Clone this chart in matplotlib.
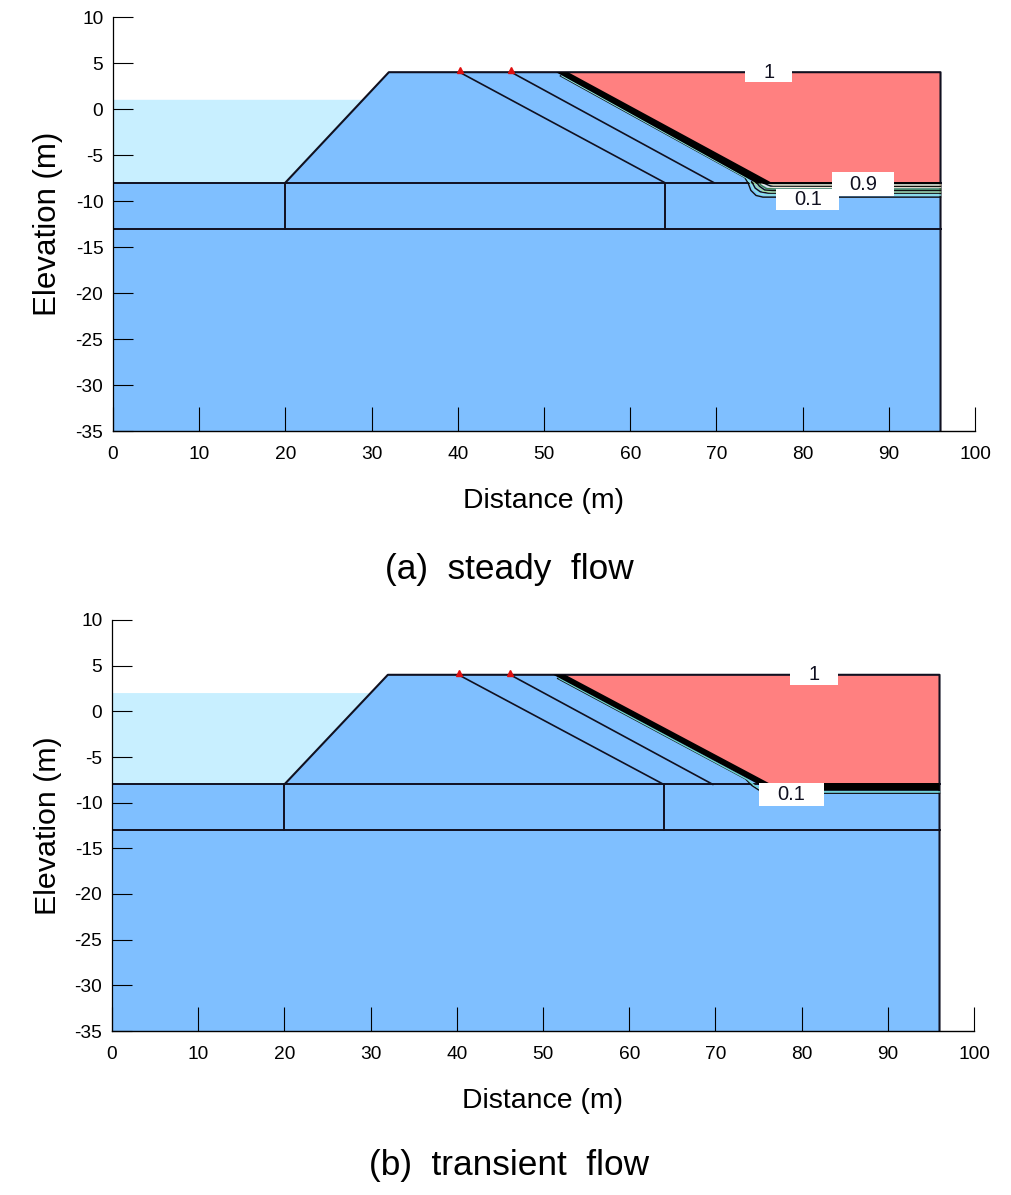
import matplotlib
matplotlib.use('Agg')
import matplotlib.pyplot as plt
from matplotlib.patches import Rectangle

plt.rcParams['font.family'] = ['Liberation Sans', 'DejaVu Sans']
plt.rcParams['axes.unicode_minus'] = False

# geometry (metres)
ground_x = [0, 0, 20, 32, 96, 96]
ground_y = [-35, -8, -8, 4, 4, -35]
drain1_x = [40.2, 64]
drain2_x = [46.2, 69.7]
drain_y = [4, -8]

# steady flow
water_a_x = [0, 0, 29, 20]
water_a_y = [-8, 1, 1, -8]
pink_a_x = [52.6, 96, 96, 75.6]
pink_a_y = [4, 4, -8, -8]
phreatic_a_x = [51.4, 52.8, 76.3, 96, 96, 75.6, 74.5]
phreatic_a_y = [4, 4, -7.95, -7.95, -8.15, -8.15, -8]
contours_a = [
    ([51.9, 73.3, 73.7, 74, 74.6, 75.4, 96], [3.6, -7.45, -8.1, -8.85, -9.4, -9.58, -9.58], '#101010'),
    ([52.1, 73.5, 74, 74.3, 74.9, 75.7, 96], [3.6, -7.5, -8.1, -8.7, -9.2, -9.35, -9.35], '#8fe8e0'),
    ([74.1, 74.5, 75.1, 76, 96], [-7.9, -8.6, -9, -9.15, -9.15], '#101010'),
    ([74.3, 74.8, 75.4, 76.3, 96], [-7.9, -8.5, -8.9, -9.02, -9.02], '#a8e0a0'),
    ([74.5, 75, 75.6, 76.5, 96], [-7.8, -8.4, -8.8, -8.86, -8.86], '#101010'),
    ([74.7, 75.2, 75.8, 76.8, 96], [-7.8, -8.3, -8.65, -8.7, -8.7], '#3f7f45'),
    ([74.9, 75.4, 76, 77, 96], [-7.8, -8.2, -8.48, -8.52, -8.52], '#f0e8d8'),
    ([75.1, 75.6, 76.3, 96], [-7.8, -8.1, -8.38, -8.42], '#101010'),
    ([75.3, 75.9, 76.6, 96], [-7.8, -8.05, -8.26, -8.26], '#d8c8a0'),
]
labels_a = ['1', '0.1', '0.9']
labels_a_x = [76.1, 80.6, 87]
labels_a_y = [4, -9.8, -8.2]
boxes_a_w = [5.45, 7.3, 7.2]
boxes_a_h = [2.2, 2.3, 2.6]

# transient flow
water_b_x = [0, 0, 30, 20]
water_b_y = [-8, 2, 2, -8]
pink_b_x = [52.6, 96, 96, 75.6]
pink_b_y = [4, 4, -7.9, -7.9]
phreatic_b_x = [51.2, 52.6, 76.2, 96, 96, 75.6, 75.0]
phreatic_b_y = [4, 4, -7.85, -7.85, -8.7, -8.7, -8]
contours_b = [
    ([51.7, 73.5, 74.2, 75, 76.2, 96], [3.6, -7.4, -8.1, -8.6, -8.97, -8.97], '#101010'),
    ([51.9, 73.7, 74.5, 75.3, 76.4, 96], [3.6, -7.45, -8.1, -8.5, -8.82, -8.82], '#70d8d0'),
]
labels_b = ['1', '0.1']
labels_b_x = [81.4, 78.8]
labels_b_y = [4, -9.1]
boxes_b_w = [5.6, 7.5]
boxes_b_h = [2.3, 2.5]

xticks = list(range(0, 101, 10))
yticks = list(range(-35, 11, 5))

line_col = '#101020'


def draw_panel(rect, water_x, water_y, pink_x, pink_y, ph_x, ph_y, contours,
               labs, lab_x, lab_y, box_w, box_h, ylab_size):
    ax = fig.add_axes(rect)
    ax.set_xlim(0, 100)
    ax.set_ylim(-35, 10)
    ax.spines['top'].set_visible(False)
    ax.spines['right'].set_visible(False)
    ax.spines['left'].set_linewidth(0.9)
    ax.spines['bottom'].set_linewidth(1.0)
    ax.spines['left'].set_zorder(6)
    ax.spines['bottom'].set_zorder(6)
    ax.set_xticks(xticks)
    ax.set_yticks(yticks)
    ax.tick_params(axis='x', direction='in', length=17, width=0.8, labelsize=13.8, pad=10.5)
    ax.tick_params(axis='y', direction='in', length=14.5, width=0.8, labelsize=13.8, pad=7)
    ax.xaxis.set_zorder(10)
    ax.yaxis.set_zorder(10)

    ax.fill(water_x, water_y, color='#c8efff', lw=0, zorder=2)
    ax.fill(ground_x, ground_y, color='#7fbfff', lw=0, zorder=3)
    ax.fill(pink_x, pink_y, color='#ff8080', lw=0, zorder=4)

    # soil boundaries
    ax.plot(ground_x[2:], ground_y[2:], color=line_col, lw=1.5, zorder=6)
    ax.plot([0, 96], [-8, -8], color=line_col, lw=1.4, zorder=6)
    ax.plot([0, 96], [-13, -13], color=line_col, lw=1.4, zorder=6)
    ax.plot([20, 20], [-8, -13], color=line_col, lw=1.4, zorder=6)
    ax.plot([64, 64], [-8, -13], color=line_col, lw=1.4, zorder=6)
    ax.plot(drain1_x, drain_y, color=line_col, lw=1.2, zorder=6)
    ax.plot(drain2_x, drain_y, color=line_col, lw=1.2, zorder=6)
    ax.plot([drain1_x[0], drain2_x[0]], [4.25, 4.25], ls='none', marker='^', ms=5,
            color='#e01010', zorder=7, clip_on=False)

    for cx, cy, col in contours:
        ax.plot(cx, cy, color=col, lw=1.0, zorder=7)
    ax.fill(ph_x, ph_y, color='black', lw=0, zorder=8)

    for i, (t, x, y) in enumerate(zip(labs, lab_x, lab_y)):
        ax.add_patch(Rectangle((x - box_w[i] / 2, y - box_h[i] / 2), box_w[i], box_h[i],
                               fc='white', ec='none', zorder=9 + i * 0.1))
        ax.text(x, y, t, fontsize=14.5, ha='center', va='center', zorder=9.05 + i * 0.1, color='#101020')

    ax.set_xlabel('Distance (m)', fontsize=20.4, labelpad=18.5)
    ax.set_ylabel('Elevation (m)', fontsize=ylab_size, labelpad=9)
    return ax


W, H = 1012, 1195
fig = plt.figure(figsize=(W / 100, H / 100), dpi=100)

rect_a = [113 / W, 1 - 431 / H, 862 / W, 414 / H]
rect_b = [112 / W, 1 - 1031 / H, 862 / W, 411 / H]
draw_panel(rect_a, water_a_x, water_a_y, pink_a_x, pink_a_y, phreatic_a_x, phreatic_a_y,
           contours_a, labels_a, labels_a_x, labels_a_y, boxes_a_w, boxes_a_h, 22.5)
draw_panel(rect_b, water_b_x, water_b_y, pink_b_x, pink_b_y, phreatic_b_x, phreatic_b_y,
           contours_b, labels_b, labels_b_x, labels_b_y, boxes_b_w, boxes_b_h, 21.9)

fig.text(509 / W, 1 - 569 / H, '(a)  steady  flow', fontsize=25.4, ha='center', va='center')
fig.text(509 / W, 1 - 1166 / H, '(b)  transient  flow', fontsize=25.4, ha='center', va='center')

fig.savefig('out.png', dpi=100)
